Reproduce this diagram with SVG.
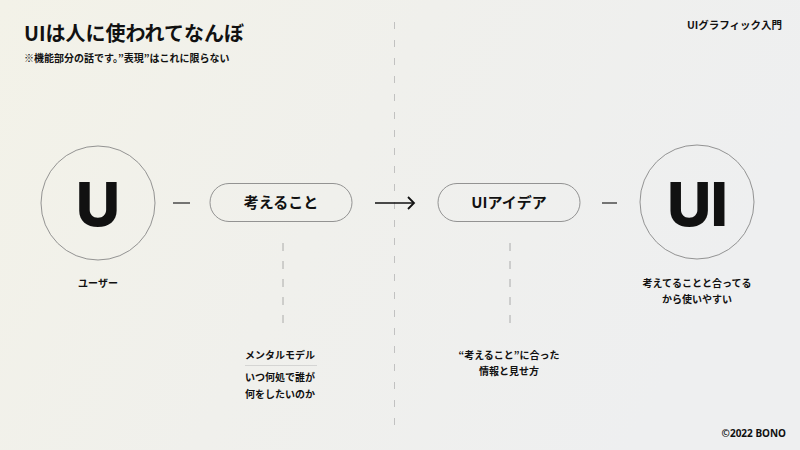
<svg xmlns="http://www.w3.org/2000/svg" width="800" height="450" viewBox="0 0 800 450">
<defs>
<linearGradient id="bg" x1="0" y1="0" x2="1" y2="0.3">
<stop offset="0" stop-color="#f3f2e8"/>
<stop offset="0.5" stop-color="#f0f0ec"/>
<stop offset="1" stop-color="#eeeff0"/>
</linearGradient>
<marker id="ah" viewBox="0 0 14 14" refX="12" refY="7" markerWidth="14" markerHeight="14" markerUnits="userSpaceOnUse" orient="auto">
<path d="M6 1 L12 7 L6 13" fill="none" stroke="#111" stroke-width="1.8"/>
</marker>
</defs>
<style>
text{font-family:"Noto Sans CJK JP","Noto Sans",sans-serif;font-weight:700;fill:#111}
.c{text-anchor:middle}
.s{font-size:10px}
.big{font-family:Inter,"Noto Sans",sans-serif;font-weight:800}
.node{fill:none;stroke:#888;stroke-width:0.9}
.dash{stroke:#999;stroke-width:0.8;stroke-dasharray:8 10;fill:none}
.ln{stroke:#222;stroke-width:1.2;fill:none}
</style>
<rect width="800" height="450" fill="url(#bg)"/>
<line x1="394.5" y1="22" x2="394.5" y2="436" stroke="#b5b5b5" stroke-width="0.8" stroke-dasharray="7 11"/>
<text x="24" y="41" font-size="20">UIは人に使われてなんぼ</text>
<text x="24" y="62" font-size="10">※機能部分の話です。”表現”はこれに限らない</text>
<text x="782" y="29" font-size="10.5" text-anchor="end">UIグラフィック入門</text>
<text x="786" y="437" class="s" text-anchor="end" style="font-family:'Noto Sans',sans-serif">©2022 BONO</text>

<g id="connectors">
<line class="ln" x1="173" y1="203" x2="190" y2="203"/>
<line x1="375" y1="203" x2="414" y2="203" stroke="#111" stroke-width="1.6" marker-end="url(#ah)"/>
<line class="ln" x1="602" y1="203" x2="617" y2="203"/>
<line class="dash" x1="283" y1="243" x2="283" y2="324"/>
<line class="dash" x1="510" y1="243" x2="510" y2="324"/>
</g>

<g id="user">
<circle class="node" cx="98" cy="203" r="57"/>
<text x="98" y="226" class="c big" font-size="61">U</text>
<text x="98" y="287" class="c s">ユーザー</text>
</g>

<g id="think">
<rect class="node" x="210" y="183.5" width="142" height="38" rx="19"/>
<text x="281" y="208" class="c" font-size="15">考えること</text>
</g>

<g id="idea">
<rect class="node" x="438" y="183.5" width="142" height="38" rx="19"/>
<text x="509" y="208" class="c" font-size="15">UIアイデア</text>
</g>

<g id="ui">
<circle class="node" cx="697" cy="202" r="57"/>
<text x="697" y="226" class="c big" font-size="61" letter-spacing="-1">UI</text>
<text x="697" y="287" class="c s">考えてることと合ってる</text>
<text x="697" y="303" class="c s">から使いやすい</text>
</g>

<g id="mental">
<text x="245" y="359" class="s">メンタルモデル</text>
<line x1="245" y1="365.5" x2="317" y2="365.5" stroke="#c8c8c8" stroke-width="0.7"/>
<text x="245" y="381" class="s">いつ何処で誰が</text>
<text x="245" y="398" class="s">何をしたいのか</text>
</g>

<g id="match">
<text x="509" y="359" class="c s">“考えること”に合った</text>
<text x="509" y="375" class="c s">情報と見せ方</text>
</g>
</svg>
